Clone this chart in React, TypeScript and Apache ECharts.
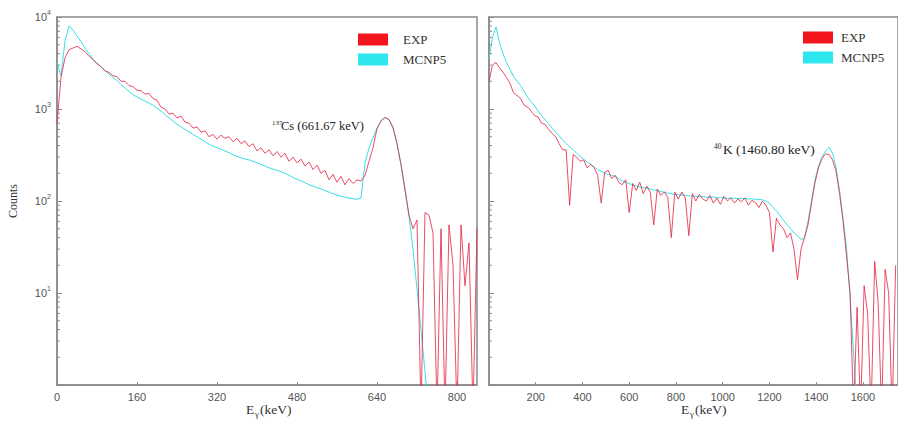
import React, { useEffect, useRef } from "react";
import * as echarts from "echarts";

// ---- Data ----
// Left panel: 137Cs spectrum, channel width 8 keV, starting at 0 keV
const CS_STEP_KEV = 8;
const CS_EXP = [
  700, 2200, 3600, 4400, 4600, 4800, 4500, 4200, 3750, 3450,
  3100, 2900, 2600, 2500, 2300, 2250, 2000, 2000, 1800, 1750,
  1600, 1580, 1450, 1480, 1300, 1250, 1050, 1000, 880, 900,
  800, 840, 720, 700, 620, 640, 560, 580, 500, 530,
  470, 520, 480, 500, 440, 480, 420, 450, 390, 420,
  350, 380, 330, 360, 310, 345, 300, 330, 270, 300,
  260, 285, 240, 265, 220, 245, 200, 215, 170, 195,
  160, 185, 150, 175, 155, 170, 165, 190, 270, 380,
  610, 740, 810, 770, 630, 420, 250, 135, 70, 50,
  62, 0.5, 75, 70, 45, 0.5, 50, 0.5, 55, 20,
  0.5, 55, 12, 35, 0.5, 50,
];
const CS_MCNP5 = [
  3200, 2300, 5500, 8000, 7200, 6200, 5400, 4600, 4000, 3500,
  3150, 2850, 2600, 2400, 2200, 2050, 1850, 1700, 1550, 1430,
  1350, 1280, 1220, 1160, 1100, 1020, 950, 870, 800, 740,
  680, 640, 600, 565, 530, 500, 470, 440, 415, 395,
  380, 365, 350, 335, 320, 305, 295, 285, 280, 270,
  260, 250, 240, 230, 222, 215, 208, 200, 190, 180,
  172, 165, 158, 150, 145, 140, 135, 130, 125, 120,
  116, 113, 110, 108, 106, 104, 108, 260, 375, 485,
  620, 750, 810, 760, 620, 420, 245, 130, 68, 30,
  11, 4, 1.4, 0.5,
];

// Right panel: 40K spectrum, channel width 15 keV, starting at 0 keV
const K_STEP_KEV = 15;
const K_EXP = [
  2000, 3000, 3200, 2800, 2500, 2200, 1900, 1500, 1400, 1300,
  1100, 1050, 950, 850, 820, 700, 680, 600, 540, 500,
  420, 360, 360, 90, 320, 300, 270, 280, 230, 250,
  230, 190, 95, 205, 215, 175, 190, 160, 150, 170,
  75, 155, 130, 160, 120, 145, 125, 55, 135, 115,
  125, 110, 40, 125, 105, 125, 108, 42, 120, 100,
  118, 105, 100, 115, 95, 108, 92, 112, 100, 108,
  95, 105, 98, 108, 90, 102, 96, 85, 100, 90,
  75, 28, 65, 55, 50, 40, 45, 30, 14, 30,
  40, 55, 95, 160, 230, 290, 325, 320, 280, 210,
  120, 60, 25, 10, 0.5, 7, 0.5, 12, 6, 0.5,
  22, 8, 0.5, 18, 10, 0.5, 20,
];
const K_MCNP5 = [
  3500, 6000, 7800, 5200, 4000, 3200, 2700, 2250, 2000, 1800,
  1550, 1350, 1200, 1080, 950, 850, 760, 690, 620, 560,
  510, 460, 420, 390, 360, 330, 305, 285, 265, 250,
  235, 220, 210, 200, 195, 190, 185, 175, 165, 160,
  155, 150, 146, 142, 140, 138, 135, 132, 130, 127,
  125, 122, 120, 118, 117, 116, 115, 114, 113, 112,
  111, 112, 110, 109, 111, 108, 109, 108, 107, 108,
  107, 106, 107, 106, 105, 106, 104, 104, 103, 100,
  95, 85, 78, 70, 62, 55, 50, 45, 42, 38,
  40, 60, 100, 170, 240, 300, 350, 385, 330, 230,
  130, 65, 30, 9, 2.2, 0.5,
];

const SERIES_NAMES = ["EXP", "MCNP5"];
const CS_X_INTERVAL = 160;
const K_X_INTERVAL = 200;
const Y_MIN = 1;
const Y_MAX = 10000;
const MINOR_TICK_VALUES = [
  2, 3, 4, 5, 6, 7, 8, 9,
  20, 30, 40, 50, 60, 70, 80, 90,
  200, 300, 400, 500, 600, 700, 800, 900,
  2000, 3000, 4000, 5000, 6000, 7000, 8000, 9000,
];

const CS_ISOTOPE_MASS = "137";
const CS_ANNOTATION = "Cs (661.67 keV)";
const K_ISOTOPE_MASS = "40";
const K_ANNOTATION = "K (1460.80 keV)";
const X_NAME_PARTS = ["E", "γ", "(keV)"];
const Y_NAME = "Counts";

const toPairs = (vals: number[], step: number) => vals.map((v, i) => [i * step, v]);

const AXIS_COLOR = "#8a8a8a";
const RED = "#e3223f";
const CYAN = "#38e0e6";
const SERIF = "Liberation Serif";
const SANS = "Liberation Sans";

export default function App() {
  const ref = useRef<HTMLDivElement>(null);

  useEffect(() => {
    if (!ref.current) return;
    const chart = echarts.init(ref.current, undefined, { renderer: "svg" });

    const xAxisBase = (gridIndex: number, max: number, interval: number, showMin: boolean) => ({
      type: "value",
      gridIndex,
      min: 0,
      max,
      interval,
      axisLine: { show: true, lineStyle: { color: AXIS_COLOR, width: 1.5 } },
      axisTick: { show: true, inside: true, length: 3, lineStyle: { color: AXIS_COLOR } },
      axisLabel: {
        fontFamily: SANS,
        fontSize: 11,
        color: "#555",
        margin: 6,
        showMinLabel: showMin,
        showMaxLabel: false,
        formatter: (v: number) => String(v),
      },
      splitLine: { show: false },
    });

    const yAxisBase = (gridIndex: number, showLabels: boolean) => ({
      type: "log",
      logBase: 10,
      gridIndex,
      min: Y_MIN,
      max: Y_MAX,
      axisLine: { show: true, lineStyle: { color: AXIS_COLOR, width: 1.5 } },
      axisTick: { show: true, inside: true, length: 5, lineStyle: { color: AXIS_COLOR } },
      minorTick: { show: false },
      splitLine: { show: false },
      axisLabel: {
        show: showLabels,
        margin: 6,
        fontFamily: SANS,
        fontSize: 11,
        color: "#555",
        lineHeight: 16,
        formatter: (v: number) => {
          if (v <= 1) return "";
          return "10{sup|" + Math.round(Math.log10(v)) + "}";
        },
        rich: {
          sup: { fontFamily: SANS, fontSize: 7, lineHeight: 6, verticalAlign: "top", color: "#555" },
        },
      },
      name: showLabels ? Y_NAME : "",
      nameLocation: "middle",
      nameGap: 38,
      nameTextStyle: { fontFamily: SERIF, fontSize: 12, color: "#333" },
    });

    const minorTicks = (idx: number) => ({
      type: "custom",
      xAxisIndex: idx,
      yAxisIndex: idx,
      silent: true,
      clip: false,
      z: 5,
      data: MINOR_TICK_VALUES.map((v) => [0, v]),
      renderItem: (_p: any, api: any) => {
        const pt = api.coord([api.value(0), api.value(1)]);
        return {
          type: "line",
          shape: { x1: pt[0], y1: pt[1], x2: pt[0] + 3, y2: pt[1] },
          style: { stroke: AXIS_COLOR, lineWidth: 1 },
        };
      },
    });

    const lineSeries = (name: string, idx: number, data: number[][], color: string, opacity: number, z: number) => ({
      name,
      type: "line",
      xAxisIndex: idx,
      yAxisIndex: idx,
      data,
      showSymbol: false,
      symbol: "none",
      clip: true,
      z,
      itemStyle: { color },
      lineStyle: { color, width: 1, opacity },
    });

    const legendBase = (left: number, top: number, textPad: number) => ({
      left,
      top,
      padding: 0,
      orient: "vertical",
      icon: "rect",
      itemWidth: 30,
      itemHeight: 12,
      itemGap: 7,
      selectedMode: false,
      itemStyle: { borderWidth: 0 },
      data: [
        { name: SERIES_NAMES[0], itemStyle: { color: "#f2151d" } },
        { name: SERIES_NAMES[1], itemStyle: { color: "#2de6ee" } },
      ],
      textStyle: { fontFamily: SERIF, fontSize: 13, color: "#333", padding: [0, 0, 0, textPad] },
    });

    const txt = (text: string, left: number, top: number, size: number, color = "#222") => ({
      type: "text",
      left,
      top,
      z: 10,
      silent: true,
      style: {
        text,
        font: `${size}px "${SERIF}", serif`,
        fontFamily: SERIF,
        fontSize: size,
        fill: color,
      },
    });

    const xName = (left: number) => [
      txt(X_NAME_PARTS[0], left, 402, 13.5, "#333"),
      txt(X_NAME_PARTS[1], left + 9, 409, 9, "#333"),
      txt(X_NAME_PARTS[2], left + 14, 402, 13.5, "#333"),
    ];

    const option: any = {
      animation: false,
      backgroundColor: "#ffffff",
      grid: [
        { left: 57, top: 17, width: 420, height: 368, show: true, borderColor: AXIS_COLOR, borderWidth: 1.5, backgroundColor: "transparent" },
        { left: 489, top: 17, width: 412, height: 368, show: true, borderColor: AXIS_COLOR, borderWidth: 1.5, backgroundColor: "transparent" },
      ],
      xAxis: [
        xAxisBase(0, 840, CS_X_INTERVAL, true),
        xAxisBase(1, 1750, K_X_INTERVAL, false),
      ],
      yAxis: [yAxisBase(0, true), yAxisBase(1, false)],
      legend: [legendBase(358, 33, 10), legendBase(803, 31, 3)],
      series: [
        lineSeries(SERIES_NAMES[1], 0, toPairs(CS_MCNP5, CS_STEP_KEV), CYAN, 1, 2),
        lineSeries(SERIES_NAMES[0], 0, toPairs(CS_EXP, CS_STEP_KEV), RED, 0.8, 3),
        lineSeries(SERIES_NAMES[1], 1, toPairs(K_MCNP5, K_STEP_KEV), CYAN, 1, 2),
        lineSeries(SERIES_NAMES[0], 1, toPairs(K_EXP, K_STEP_KEV), RED, 0.8, 3),
        minorTicks(0),
        minorTicks(1),
      ],
      graphic: [
        txt(CS_ISOTOPE_MASS, 272, 119, 7),
        txt(CS_ANNOTATION, 281, 119, 12.5),
        txt(K_ISOTOPE_MASS, 714, 142, 7.5),
        txt(K_ANNOTATION, 723, 142, 13.5),
        ...xName(246),
        ...xName(681),
      ],
    };

    chart.setOption(option);
    return () => chart.dispose();
  }, []);

  return (
    <div
      ref={ref}
      style={{ position: "fixed", left: 0, top: 0, width: 898, height: 421, background: "#fff" }}
    />
  );
}
